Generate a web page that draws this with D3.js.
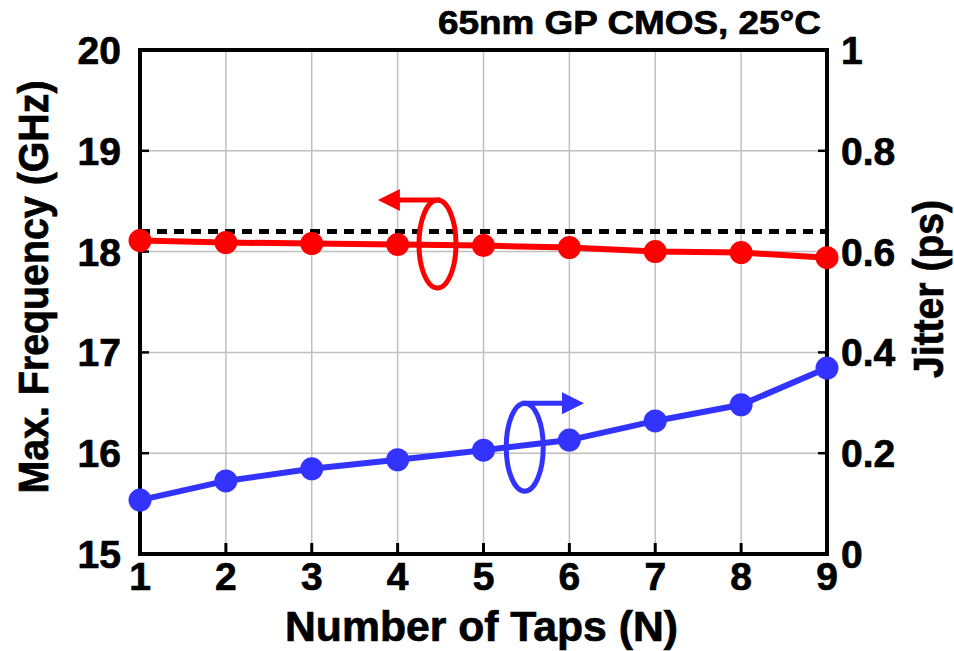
<!DOCTYPE html>
<html>
<head>
<meta charset="utf-8">
<script src="https://cdn.jsdelivr.net/npm/d3@7"></script>
<style>
  body { margin: 0; background: #fff; }
  text { font-family: "Liberation Sans", Arial, sans-serif; font-weight: bold; fill: #000; stroke: #000; stroke-width: 0.7px; }
</style>
</head>
<body>
<div id="chart"></div>
<script>
var taps = [1, 2, 3, 4, 5, 6, 7, 8, 9];
var maxFreq = [18.11, 18.09, 18.08, 18.07, 18.06, 18.04, 18.00, 17.99, 17.94];
var jitter = [0.107, 0.145, 0.169, 0.187, 0.206, 0.226, 0.264, 0.296, 0.369];
var freqTicks = [15, 16, 17, 18, 19, 20];
var jitterTicks = [0, 0.2, 0.4, 0.6, 0.8, 1];
var refFreq = 18.2;

var width = 954, height = 651;
var margin = { top: 50, right: 127, bottom: 97, left: 140 };

var svg = d3.select("#chart").append("svg")
    .attr("width", width)
    .attr("height", height);

var x = d3.scaleLinear().domain([1, 9]).range([margin.left, width - margin.right]);
var yL = d3.scaleLinear().domain([15, 20]).range([height - margin.bottom, margin.top]);
var yR = d3.scaleLinear().domain([0, 1]).range([height - margin.bottom, margin.top]);

var x0 = x.range()[0], x1 = x.range()[1];
var yb = yL.range()[0], yt = yL.range()[1];

// grid
svg.append("g").selectAll("line.vg")
    .data(taps.slice(1, -1)).enter().append("line")
    .attr("x1", function(d){ return x(d); }).attr("x2", function(d){ return x(d); })
    .attr("y1", yb).attr("y2", yt)
    .attr("stroke", "#c0c0c0").attr("stroke-width", 1.5);
svg.append("g").selectAll("line.hg")
    .data(freqTicks.slice(1, -1)).enter().append("line")
    .attr("x1", x0).attr("x2", x1)
    .attr("y1", function(d){ return yL(d); }).attr("y2", function(d){ return yL(d); })
    .attr("stroke", "#c0c0c0").attr("stroke-width", 1.5);

// inward ticks
svg.append("g").selectAll("line")
    .data(taps.slice(1, -1)).enter().append("line")
    .attr("x1", function(d){ return x(d); }).attr("x2", function(d){ return x(d); })
    .attr("y1", yb).attr("y2", yb - 11)
    .attr("stroke", "#000").attr("stroke-width", 3);
svg.append("g").selectAll("line")
    .data(freqTicks.slice(1, -1)).enter().append("line")
    .attr("x1", x0).attr("x2", x0 + 9)
    .attr("y1", function(d){ return yL(d); }).attr("y2", function(d){ return yL(d); })
    .attr("stroke", "#000").attr("stroke-width", 2.5);
svg.append("g").selectAll("line")
    .data(jitterTicks.slice(1, -1)).enter().append("line")
    .attr("x1", x1).attr("x2", x1 - 9)
    .attr("y1", function(d){ return yR(d); }).attr("y2", function(d){ return yR(d); })
    .attr("stroke", "#000").attr("stroke-width", 2.5);

// frame
svg.append("rect")
    .attr("x", x0).attr("y", yt)
    .attr("width", x1 - x0).attr("height", yb - yt)
    .attr("fill", "none").attr("stroke", "#000").attr("stroke-width", 4);

// reference dashed line
svg.append("line")
    .attr("x1", x0).attr("x2", x1)
    .attr("y1", yL(refFreq)).attr("y2", yL(refFreq))
    .attr("stroke", "#000").attr("stroke-width", 5)
    .attr("stroke-dasharray", "10,7");

// tick labels
svg.append("g").selectAll("text")
    .data(taps).enter().append("text")
    .attr("x", function(d){ return x(d); })
    .attr("y", yb + 36)
    .attr("text-anchor", "middle")
    .attr("font-size", 39)
    .text(function(d){ return d; });
svg.append("g").selectAll("text")
    .data(freqTicks).enter().append("text")
    .attr("x", x0 - 19)
    .attr("y", function(d){ return yL(d) + 14; })
    .attr("text-anchor", "end")
    .attr("font-size", 39)
    .text(function(d){ return d; });
svg.append("g").selectAll("text")
    .data(jitterTicks).enter().append("text")
    .attr("x", x1 + 14)
    .attr("y", function(d){ return yR(d) + 14; })
    .attr("text-anchor", "start")
    .attr("font-size", 39)
    .text(function(d){ return d3.format("~g")(d); });

// axis titles
svg.append("text")
    .attr("x", (x0 + x1) / 2 - 2).attr("y", 641)
    .attr("text-anchor", "middle").attr("font-size", 42)
    .attr("textLength", 393).attr("lengthAdjust", "spacingAndGlyphs")
    .text("Number of Taps (N)");
svg.append("text")
    .attr("transform", "translate(48,287) rotate(-90)")
    .attr("text-anchor", "middle").attr("font-size", 42)
    .attr("textLength", 413).attr("lengthAdjust", "spacingAndGlyphs")
    .text("Max. Frequency (GHz)");
svg.append("text")
    .attr("transform", "translate(943,289) rotate(-90)")
    .attr("text-anchor", "middle").attr("font-size", 42)
    .attr("textLength", 178).attr("lengthAdjust", "spacingAndGlyphs")
    .text("Jitter (ps)");
svg.append("text")
    .attr("x", 821).attr("y", 34)
    .attr("text-anchor", "end").attr("font-size", 33)
    .attr("textLength", 383).attr("lengthAdjust", "spacingAndGlyphs")
    .text("65nm GP CMOS, 25°C");

// series
var red = "#ff0000", blue = "#3333ff";
var lineF = d3.line().x(function(d, i){ return x(taps[i]); }).y(function(d){ return yL(d); });
var lineJ = d3.line().x(function(d, i){ return x(taps[i]); }).y(function(d){ return yR(d); });

svg.append("path").datum(maxFreq).attr("d", lineF)
    .attr("fill", "none").attr("stroke", red).attr("stroke-width", 6);
svg.append("path").datum(jitter).attr("d", lineJ)
    .attr("fill", "none").attr("stroke", blue).attr("stroke-width", 6);

// annotation ellipses with arrows pointing to the series' axis
function axisArrow(cx, cy, tipX, color) {
    var top = cy - 44;
    svg.append("ellipse")
        .attr("cx", cx).attr("cy", cy).attr("rx", 18.5).attr("ry", 44)
        .attr("fill", "none").attr("stroke", color).attr("stroke-width", 5);
    var dir = tipX < cx ? -1 : 1;
    svg.append("path")
        .attr("d", "M" + (cx + dir * -3) + "," + top + "L" + (tipX - dir * 20) + "," + top)
        .attr("fill", "none").attr("stroke", color).attr("stroke-width", 5);
    svg.append("path")
        .attr("d", "M" + tipX + "," + top + "L" + (tipX - dir * 22) + "," + (top - 11) +
              "L" + (tipX - dir * 22) + "," + (top + 11) + "Z")
        .attr("fill", color);
}
axisArrow(x(4.464), yL(18.075), x(3.77), red);
axisArrow(x(5.48), yR(0.212), x(6.17), blue);

svg.append("g").selectAll("circle")
    .data(maxFreq).enter().append("circle")
    .attr("cx", function(d, i){ return x(taps[i]); })
    .attr("cy", function(d){ return yL(d); })
    .attr("r", 11.5).attr("fill", red);
svg.append("g").selectAll("circle")
    .data(jitter).enter().append("circle")
    .attr("cx", function(d, i){ return x(taps[i]); })
    .attr("cy", function(d){ return yR(d); })
    .attr("r", 11.5).attr("fill", blue);
</script>
</body>
</html>
